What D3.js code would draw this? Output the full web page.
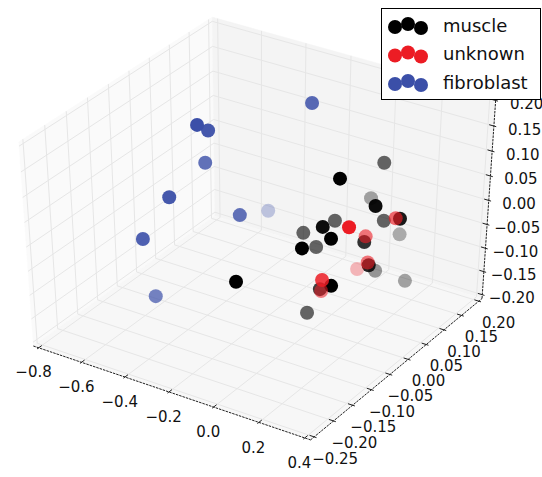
<!DOCTYPE html>
<html lang="en">
<head>
<meta charset="UTF-8">
<title>3D scatter: muscle / unknown / fibroblast</title>
<script src="https://d3js.org/d3.v7.min.js"></script>
<style>
  body { margin: 0; background: #fff; }
  svg text { font-family: "DejaVu Sans", sans-serif; fill: #111; }
</style>
</head>
<body>
<svg id="chart" width="542" height="477"></svg>
<script>

// ---- data ----
var groups = ["muscle", "unknown", "fibroblast"];
var groupColors = ["#000000", "#ec1c24", "#3b4fa8"];

var xTicks = [-0.8, -0.6, -0.4, -0.2, 0.0, 0.2, 0.4];
var yTicks = [-0.25, -0.20, -0.15, -0.10, -0.05, 0.00, 0.05, 0.10, 0.15, 0.20];
var zTicks = [-0.20, -0.15, -0.10, -0.05, 0.00, 0.05, 0.10, 0.15, 0.20];

var muscleX = [0.065, 0.159, -0.046, 0.285, 0.354, 0.159, 0.083, 0.005, 0.157, -0.076, 0.226,
               0.153, -0.0125, 0.231, 0.307, 0.114, 0.203, 0.006, 0.300, 0.145, 0.067];
var muscleY = [0.143, -0.034, 0.180, -0.017, 0.006, 0.0875, 0.183, 0.050, -0.075, 0.015, -0.095,
               -0.125, 0.0115, -0.010, -0.044, 0.097, 0.126, -0.204, -0.1375, -0.072, -0.058];
var muscleZ = [0.065, 0.145, -0.044, 0.099, 0.070, -0.009, -0.104, -0.009, 0.073, -0.025, 0.071,
               0.059, -0.043, 0.015, -0.001, -0.126, -0.152, 0.018, 0.013, -0.057, -0.127];

var unknownX = [0.262, 0.217, 0.127, 0.176, 0.003, 0.188, 0.050];
var unknownY = [-0.071, 0.083, 0.059, 0.036, 0.116, -0.093, -0.011];
var unknownZ = [0.085, 0.007, -0.029, -0.0625, -0.150, -0.019, -0.1125];

var fibroX = [-0.125, -0.358, -0.344, -0.386, -0.358, -0.400, -0.196, -0.383, -0.381];
var fibroY = [0.0625, -0.0906, -0.072, -0.057, -0.161, -0.204, -0.079, 0.102, -0.188];
var fibroZ = [0.202, 0.211, 0.192, 0.115, 0.109, 0.045, 0.049, -0.073, -0.079];

var xLim = [-0.8, 0.4], yLim = [-0.25, 0.2], zLim = [-0.2, 0.2];

// ---- projection (mplot3d style view) ----
var elev = 38 * Math.PI / 180, azim = -57 * Math.PI / 180, dist = 10;
var right = [-Math.sin(azim), Math.cos(azim), 0];
var up = [-Math.sin(elev) * Math.cos(azim), -Math.sin(elev) * Math.sin(azim), Math.cos(elev)];
var eye = [Math.cos(elev) * Math.cos(azim), Math.cos(elev) * Math.sin(azim), Math.sin(elev)];

function dot(a, b) { return a[0] * b[0] + a[1] * b[1] + a[2] * b[2]; }

// the box is padded by 1/48 of the range on each side, like mplot3d does
function padded(lim) { var d = (lim[1] - lim[0]) / 48; return [lim[0] - d, lim[1] + d]; }
var xBox = padded(xLim), yBox = padded(yLim), zBox = padded(zLim);
var dx = (xLim[1] - xLim[0]) / 12, dy = (yLim[1] - yLim[0]) / 12, dz = (zLim[1] - zLim[0]) / 12;

var nx = d3.scaleLinear().domain(xBox).range([-0.5, 0.5]);
var ny = d3.scaleLinear().domain(yBox).range([-0.5, 0.5]);
var nz = d3.scaleLinear().domain(zBox).range([-0.5, 0.5]);

// screen mapping
var screenX = d3.scaleLinear().domain([0, 1]).range([260.2, 260.2 + 334.3]);
var screenY = d3.scaleLinear().domain([0, 1]).range([223.5, 223.5 - 257.7]);

function project(x, y, z) {
  var p = [nx(x), ny(y), nz(z)];
  var d = dot(p, eye);
  var f = dist / (dist - d);
  return { x: screenX(dot(p, right) * f), y: screenY(dot(p, up) * f), depth: d };
}

function pathOf(pts) {
  return "M" + pts.map(function(q) {
    var s = project(q[0], q[1], q[2]);
    return s.x.toFixed(2) + "," + s.y.toFixed(2);
  }).join("L");
}

var svg = d3.select("#chart");
var x0 = xBox[0], x1 = xBox[1], y0 = yBox[0], y1 = yBox[1], z0 = zBox[0], z1 = zBox[1];

// ---- panes ----
var panes = [
  { pts: [[x0, y0, z0], [x0, y1, z0], [x0, y1, z1], [x0, y0, z1]], fill: "#fafafa" },
  { pts: [[x0, y1, z0], [x1, y1, z0], [x1, y1, z1], [x0, y1, z1]], fill: "#f4f4f4" },
  { pts: [[x0, y0, z0], [x1, y0, z0], [x1, y1, z0], [x0, y1, z0]], fill: "#f7f7f7" }
];
svg.append("g").selectAll("path")
  .data(panes)
  .join("path")
  .attr("d", function(p) { return pathOf(p.pts) + "Z"; })
  .attr("fill", function(p) { return p.fill; })
  .attr("stroke", function(p) { return p.fill; })
  .attr("stroke-width", 0.5);

// ---- grid ----
var gridLines = [];
xTicks.forEach(function(t) { gridLines.push([[t, y0, z0], [t, y1, z0], [t, y1, z1]]); });
yTicks.forEach(function(t) { gridLines.push([[x1, t, z0], [x0, t, z0], [x0, t, z1]]); });
zTicks.forEach(function(t) { gridLines.push([[x0, y0, t], [x0, y1, t], [x1, y1, t]]); });

svg.append("g").selectAll("path")
  .data(gridLines)
  .join("path")
  .attr("d", pathOf)
  .attr("fill", "none")
  .attr("stroke", "#e6e6e6")
  .attr("stroke-width", 1);

// ---- axis lines, ticks, labels ----
var axisG = svg.append("g");
var axes = [
  { line: [[x0, y0, z0], [x1, y0, z0]], ticks: xTicks, fmt: d3.format(".1f"),
    tick: function(t) { return [[t, y0 - 0.1 * dy, z0], [t, y0 + 0.2 * dy, z0]]; },
    label: function(t) { return [t, y0 - 0.7 * dy, z0 - 0.7 * dz]; } },
  { line: [[x1, y0, z0], [x1, y1, z0]], ticks: yTicks, fmt: d3.format(".2f"),
    tick: function(t) { return [[x1 + 0.1 * dx, t, z0], [x1 - 0.2 * dx, t, z0]]; },
    label: function(t) { return [x1 + 0.7 * dx, t, z0 - 0.7 * dz]; } },
  { line: [[x1, y1, z0], [x1, y1, z1]], ticks: zTicks, fmt: d3.format(".2f"),
    tick: function(t) { return [[x1 + 0.1 * dx, y1, t], [x1 - 0.2 * dx, y1, t]]; },
    label: function(t) { return [x1 + 0.7 * dx, y1 + 0.7 * dy, t]; } }
];

axes.forEach(function(ax) {
  axisG.append("path")
    .attr("d", pathOf(ax.line))
    .attr("fill", "none")
    .attr("stroke", "#222")
    .attr("stroke-width", 1)
    .attr("stroke-dasharray", "2.5,1");

  axisG.append("g").selectAll("path")
    .data(ax.ticks)
    .join("path")
    .attr("d", function(t) { return pathOf(ax.tick(t)); })
    .attr("stroke", "#222")
    .attr("stroke-width", 1);

  // labels sit a little lower/right of the projected anchor (text offset)
  axisG.append("g").selectAll("text")
    .data(ax.ticks)
    .join("text")
    .each(function(t) {
      var q = ax.label(t);
      var s = project(q[0], q[1], q[2]);
      d3.select(this).attr("x", s.x + 5).attr("y", s.y + 6);
    })
    .attr("text-anchor", "middle")
    .attr("dominant-baseline", "central")
    .attr("font-size", 15)
    .text(function(t) { return ax.fmt(t).replace("-", "\u2212"); });
});

// ---- scatter (depth shaded per group, far points first) ----
var series = [
  { xs: muscleX, ys: muscleY, zs: muscleZ },
  { xs: unknownX, ys: unknownY, zs: unknownZ },
  { xs: fibroX, ys: fibroY, zs: fibroZ }
];

series.forEach(function(s, gi) {
  var pts = s.xs.map(function(v, i) { return project(v, s.ys[i], s.zs[i]); });
  var dExt = d3.extent(pts, function(p) { return p.depth; });
  var shade = d3.scaleLinear().domain(dExt).range([0.3, 1]);
  pts.sort(function(a, b) { return a.depth - b.depth; });

  svg.append("g").selectAll("circle")
    .data(pts)
    .join("circle")
    .attr("cx", function(p) { return p.x; })
    .attr("cy", function(p) { return p.y; })
    .attr("r", 7)
    .attr("fill", groupColors[gi])
    .attr("fill-opacity", function(p) { return shade(p.depth); });
});

// ---- legend ----
var legend = svg.append("g");
legend.append("rect")
  .attr("x", 381.5).attr("y", 8.5)
  .attr("width", 159).attr("height", 91)
  .attr("fill", "#fff")
  .attr("stroke", "#000")
  .attr("stroke-width", 1);

var dotOffsets = [[395, 2], [408, -1], [421, 3]];
groups.forEach(function(g, i) {
  var cy = 25 + i * 28.5;
  legend.append("g").selectAll("circle")
    .data(dotOffsets)
    .join("circle")
    .attr("cx", function(o) { return o[0]; })
    .attr("cy", function(o) { return cy + o[1]; })
    .attr("r", 7)
    .attr("fill", groupColors[i]);
  legend.append("text")
    .attr("x", 443)
    .attr("y", cy)
    .attr("dominant-baseline", "central")
    .attr("font-size", 18)
    .text(g);
});

</script>
</body>
</html>
